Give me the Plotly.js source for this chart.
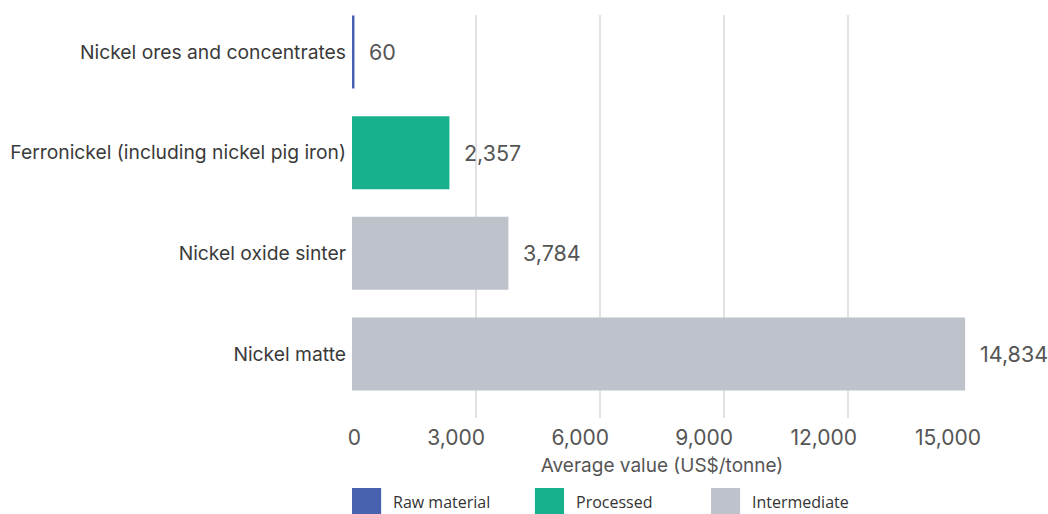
<!DOCTYPE html>
<html>
<head>
<meta charset="utf-8">
<script src="https://cdn.plot.ly/plotly-3.0.1.min.js"></script>
<style>html,body{margin:0;padding:0;background:#fff;}#chart{width:1048px;height:514px;}</style>
</head>
<body>
<div id="chart"></div>
<script>
const categories = ["Nickel ores and concentrates", "Ferronickel (including nickel pig iron)", "Nickel oxide sinter", "Nickel matte"];
const values = [60, 2357, 3784, 14834];
const types = ["Raw material", "Processed", "Intermediate", "Intermediate"];
const legendNames = ["Raw material", "Processed", "Intermediate"];
const typeColors = {"Raw material": "#4862b0", "Processed": "#17b18d", "Intermediate": "#bec3cb"};
const xTicks = [0, 3000, 6000, 9000, 12000, 15000];

const fmt = v => v.toLocaleString('en-US');

const trace = {
  type: 'bar',
  orientation: 'h',
  x: values,
  y: categories,
  marker: {color: types.map(t => typeColors[t]), line: {width: 0}},
  showlegend: false,
  hoverinfo: 'x+y'
};

const annotations = categories.map((c, i) => ({
  x: values[i], y: c, xref: 'x', yref: 'y',
  text: fmt(values[i]), showarrow: false, xanchor: 'left', xshift: 13,
  font: {family: 'Inter, sans-serif', size: 21.5, color: '#555'}
}));

// custom legend
const legX = [0, 0.295, 0.579];
const shapes = [];
legendNames.forEach((n, i) => {
  shapes.push({type: 'rect', xref: 'paper', yref: 'paper',
    x0: legX[i], x1: legX[i] + 0.047, y0: -0.1737, y1: -0.25,
    fillcolor: typeColors[n], line: {width: 0}});
  annotations.push({xref: 'paper', yref: 'paper', x: legX[i] + 0.063, y: -0.208,
    text: n, showarrow: false, xanchor: 'left', yanchor: 'middle',
    font: {family: '"Open Sans", "Noto Sans", sans-serif', size: 16, color: '#333'}});
});

const layout = {
  width: 1048, height: 514,
  margin: {l: 352, r: 76, t: 15, b: 96},
  paper_bgcolor: '#fff', plot_bgcolor: '#fff',
  bargap: 0.275,
  showlegend: false,
  xaxis: {
    range: [0, 15000], tickvals: xTicks, ticktext: xTicks.map(fmt),
    showgrid: true, gridcolor: '#e2e2e2', gridwidth: 1.5,
    zeroline: false, showline: false, ticks: '',
    ticklabelposition: 'outside left', ticklabelshift: 9,
    ticklabelstandoff: 5,
    tickfont: {family: 'Inter, sans-serif', size: 21, color: '#555'},
    title: {text: 'Average value (US$/tonne)', standoff: 9,
      font: {family: 'Inter, sans-serif', size: 19, color: '#555'}},
    fixedrange: true
  },
  yaxis: {
    range: [3.635, -0.367], showgrid: false, zeroline: false, showline: false, ticks: '',
    ticklabelstandoff: 5,
    tickfont: {family: 'Inter, sans-serif', size: 19.3, color: '#3a3a3a'},
    fixedrange: true
  },
  annotations: annotations,
  shapes: shapes
};

Plotly.newPlot('chart', [trace], layout, {displayModeBar: false, staticPlot: true});
</script>
</body>
</html>
